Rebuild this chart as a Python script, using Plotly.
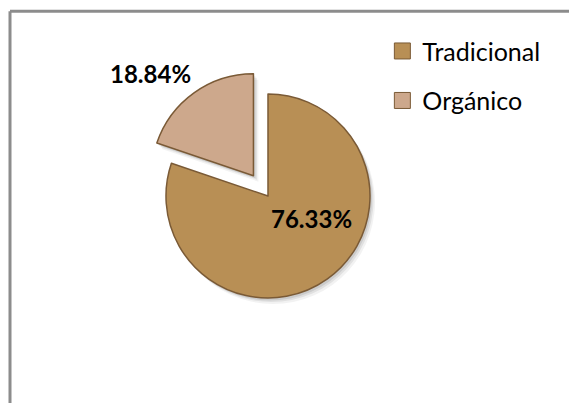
import plotly.graph_objects as go

# Share of production by farming method (percent)
categories = ["Tradicional", "Orgánico"]
shares = [76.33, 18.84]

slice_colors = ["#b88f55", "#cda88c"]
slice_pull = [0, 0.245]
edge_color = "#7a5a36"

# Label anchor points (paper coordinates) for the percentage texts
label_pos = [(0.5475, 0.459), (0.2645, 0.8164)]

W, H = 569, 403
pie_x = [0.2478, 0.6942]
pie_y = [0.1985, 0.8288]

fig = go.Figure()

# Soft drop shadow: a few faint copies of the pie nudged down and right
for dx, dy, alpha in [(5, 6, 0.05), (3.5, 4, 0.07), (2, 2.5, 0.09)]:
    fig.add_trace(
        go.Pie(
            labels=categories,
            values=shares,
            sort=False,
            direction="clockwise",
            rotation=0,
            pull=slice_pull,
            marker=dict(colors=[f"rgba(0,0,0,{alpha})"] * len(shares),
                        line=dict(width=0)),
            textinfo="none",
            hoverinfo="skip",
            showlegend=False,
            domain=dict(x=[pie_x[0] + dx / W, pie_x[1] + dx / W],
                        y=[pie_y[0] - dy / H, pie_y[1] - dy / H]),
        )
    )

fig.add_trace(
    go.Pie(
        labels=categories,
        values=shares,
        sort=False,
        direction="clockwise",
        rotation=0,
        pull=slice_pull,
        marker=dict(colors=slice_colors, line=dict(color=edge_color, width=1.5)),
        textinfo="none",
        hoverinfo="label+value",
        showlegend=False,
        domain=dict(x=pie_x, y=pie_y),
    )
)

# Legend entries, one group per category so the rows can be spaced apart
for i, (name, col) in enumerate(zip(categories, slice_colors)):
    fig.add_trace(
        go.Scatter(
            x=[None],
            y=[None],
            mode="markers",
            name=name,
            legendgroup=f"g{i}",
            marker=dict(symbol="square", size=16, color=col,
                        line=dict(color=edge_color, width=1)),
            hoverinfo="skip",
        )
    )

annotations = [
    dict(
        x=px,
        y=py,
        xref="paper",
        yref="paper",
        text=f"{v:.2f}%",
        showarrow=False,
        xanchor="center",
        yanchor="middle",
        font=dict(family="Lato", size=24, color="black", weight="bold"),
    )
    for v, (px, py) in zip(shares, label_pos)
]

# Chart frame: only the top and left edges fall inside the page
frame_x = 10 / W
frame_y = 1 - 11.3 / H

fig.update_layout(
    width=W,
    height=H,
    margin=dict(l=0, r=0, t=0, b=0),
    paper_bgcolor="white",
    plot_bgcolor="white",
    font=dict(family="Lato", color="black"),
    xaxis=dict(visible=False),
    yaxis=dict(visible=False),
    annotations=annotations,
    legend=dict(
        x=0.672,
        y=0.93,
        xanchor="left",
        yanchor="top",
        tracegroupgap=14,
        font=dict(family="Lato", size=25, color="black"),
        bgcolor="rgba(0,0,0,0)",
    ),
    shapes=[
        dict(type="line", xref="paper", yref="paper",
             x0=frame_x, x1=1.05, y0=frame_y, y1=frame_y,
             line=dict(color="#8c8c8c", width=3), layer="below"),
        dict(type="line", xref="paper", yref="paper",
             x0=frame_x, x1=frame_x, y0=-0.05, y1=frame_y,
             line=dict(color="#8c8c8c", width=3), layer="below"),
    ],
)

fig.write_html("out.html", config={"displayModeBar": False})
